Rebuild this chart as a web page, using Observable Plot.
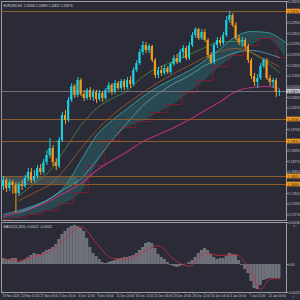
<!DOCTYPE html>
<html><head><meta charset="utf-8">
<script src="https://cdn.jsdelivr.net/npm/d3@7"></script>
<script src="https://cdn.jsdelivr.net/npm/@observablehq/plot@0.6"></script>
<style>
html,body{margin:0;padding:0;background:#2a2b36;width:300px;height:300px;overflow:hidden;}
#c svg{display:block;}
</style></head><body><div id="c"></div>
<script>
// ---- price data (EURUSD) ----
const openP = [1.1802,1.1820,1.1796,1.1814,1.1805,1.1781,1.1808,1.1802,1.1826,1.1844,
1.1820,1.1832,1.1856,1.1844,1.1874,1.1895,1.1916,1.1874,1.1862,1.1940,
1.2015,1.2000,1.2060,1.2102,1.2075,1.2120,1.2078,1.2066,1.2090,1.2069,
1.2084,1.2063,1.2081,1.2066,1.2090,1.2105,1.2084,1.2111,1.2096,1.2117,
1.2099,1.2120,1.2108,1.2150,1.2171,1.2204,1.2225,1.2210,1.2222,1.2180,
1.2135,1.2150,1.2141,1.2156,1.2144,1.2168,1.2186,1.2174,1.2204,1.2216,
1.2186,1.2225,1.2255,1.2273,1.2246,1.2264,1.2240,1.2195,1.2174,1.2225,
1.2240,1.2231,1.2255,1.2300,1.2315,1.2285,1.2246,1.2234,1.2240,1.2222,
1.2180,1.2132,1.2114,1.2126,1.2162,1.2180,1.2126,1.2114,1.2120,1.2084];
const closeP = [1.1820,1.1796,1.1814,1.1805,1.1781,1.1808,1.1802,1.1826,1.1844,1.1820,
1.1832,1.1856,1.1844,1.1874,1.1895,1.1916,1.1874,1.1862,1.1940,1.2015,
1.2000,1.2060,1.2102,1.2075,1.2120,1.2078,1.2066,1.2090,1.2069,1.2084,
1.2063,1.2081,1.2066,1.2090,1.2105,1.2084,1.2111,1.2096,1.2117,1.2099,
1.2120,1.2108,1.2150,1.2171,1.2204,1.2225,1.2210,1.2222,1.2180,1.2135,
1.2150,1.2141,1.2156,1.2144,1.2168,1.2186,1.2174,1.2204,1.2216,1.2186,
1.2225,1.2255,1.2273,1.2246,1.2264,1.2240,1.2195,1.2174,1.2225,1.2240,
1.2231,1.2255,1.2300,1.2315,1.2285,1.2246,1.2234,1.2240,1.2222,1.2180,
1.2132,1.2114,1.2126,1.2162,1.2180,1.2126,1.2114,1.2120,1.2084,1.2087];
const highP = [1.1832,1.1826,1.1823,1.1820,1.1814,1.1814,1.1820,1.1835,1.1856,1.1856,
1.1850,1.1865,1.1868,1.1883,1.1910,1.1946,1.1925,1.1886,1.1949,1.2024,
1.2030,1.2069,1.2111,1.2108,1.2129,1.2126,1.2090,1.2096,1.2099,1.2093,
1.2090,1.2090,1.2087,1.2096,1.2114,1.2111,1.2120,1.2117,1.2123,1.2123,
1.2129,1.2132,1.2159,1.2180,1.2213,1.2237,1.2234,1.2228,1.2225,1.2186,
1.2159,1.2162,1.2165,1.2162,1.2174,1.2195,1.2198,1.2213,1.2225,1.2222,
1.2234,1.2264,1.2279,1.2276,1.2273,1.2273,1.2246,1.2204,1.2231,1.2249,
1.2249,1.2264,1.2312,1.2327,1.2321,1.2294,1.2255,1.2249,1.2246,1.2228,
1.2186,1.2141,1.2138,1.2171,1.2186,1.2186,1.2135,1.2126,1.2126,1.2093];
const lowP = [1.1790,1.1784,1.1787,1.1778,1.1721,1.1772,1.1790,1.1796,1.1817,1.1811,
1.1814,1.1823,1.1835,1.1838,1.1865,1.1886,1.1862,1.1850,1.1856,1.1934,
1.1988,1.1994,1.2054,1.2066,1.2069,1.2072,1.2057,1.2060,1.2060,1.2057,
1.2051,1.2057,1.2054,1.2060,1.2081,1.2075,1.2078,1.2090,1.2090,1.2090,
1.2093,1.2096,1.2102,1.2144,1.2165,1.2195,1.2201,1.2201,1.2174,1.2126,
1.2126,1.2132,1.2135,1.2138,1.2138,1.2162,1.2168,1.2171,1.2186,1.2180,
1.2180,1.2219,1.2246,1.2240,1.2240,1.2234,1.2186,1.2168,1.2168,1.2216,
1.2222,1.2225,1.2249,1.2291,1.2279,1.2240,1.2225,1.2219,1.2210,1.2171,
1.2123,1.2102,1.2096,1.2120,1.2156,1.2120,1.2102,1.2096,1.2069,1.2072];

// ---- indicator lines (sampled at bar indices) ----
const maIdx = [5,10,15,20,25,30,35,40,45,50,55,60,65,70,75,80,85,89];
const maFast = [1.1775,1.1811,1.1850,1.1916,1.1985,1.2036,1.2066,1.2090,1.2132,1.2159,1.2177,1.2198,1.2219,1.2237,1.2237,1.2204,1.2174,1.2144];
const maMid = [1.1760,1.1784,1.1808,1.1856,1.1916,1.1970,1.2015,1.2051,1.2084,1.2114,1.2141,1.2165,1.2189,1.2207,1.2216,1.2204,1.2180,1.2162];
const maCyan = [1.1724,1.1742,1.1766,1.1796,1.1826,1.1880,1.1940,1.1994,1.2045,1.2081,1.2111,1.2135,1.2165,1.2186,1.2204,1.2210,1.2201,1.2189];
const longIdx = [0,5,10,15,20,25,30,35,40,45,50,55,60,65,70,75,80,85,89];
const maLong = [1.1712,1.1724,1.1739,1.1760,1.1784,1.1811,1.1850,1.1880,1.1907,1.1937,1.1958,1.1979,1.2003,1.2030,1.2057,1.2087,1.2099,1.2102,1.2096];
const cloudIdx = [0,5,10,15,20,25,30,35,40,45,50,55,60,65,70,75,80,85,91];
const spanA = [1.1718,1.1730,1.1745,1.1766,1.1805,1.1880,1.1955,1.2000,1.2036,1.2072,1.2102,1.2126,1.2150,1.2180,1.2216,1.2252,1.2267,1.2264,1.2234];
const spanB = [1.1703,1.1709,1.1718,1.1730,1.1751,1.1784,1.1865,1.1940,1.1979,1.1997,1.2024,1.2048,1.2084,1.2120,1.2162,1.2195,1.2225,1.2246,1.2189];

const levels = [1.2327, 1.2003, 1.1937, 1.1832, 1.1808];
const zoneLevels = [1.1808, 1.1832];
const zoneBars = [-0.65, 24];
const currentPrice = 1.2087;
const priceTicks = [1.2357,1.2293,1.2261,1.2229,1.2197,1.2165,1.2133,1.2101,1.2069,1.2037,1.1973,1.1909,1.1877,1.1845,1.1781,1.1749,1.1717];
const headerText = "EURUSD,H4  1.20840 1.20893 1.20812 1.20870";

// ---- MACD ----
const macdHist = [0.00048,0.00040,0.00040,0.00048,0.00048,0.00016,0.00024,0.00040,0.00056,0.00072,
0.00088,0.00080,0.00080,0.00096,0.00112,0.00120,0.00136,0.00160,0.00200,0.00240,
0.00264,0.00288,0.00304,0.00312,0.00304,0.00288,0.00264,0.00208,0.00136,0.00088,
0.00064,0.00040,0.00016,0.00008,0.00016,0.00024,0.00032,0.00040,0.00048,0.00056,
0.00056,0.00064,0.00072,0.00088,0.00112,0.00136,0.00168,0.00176,0.00168,0.00128,
0.00080,0.00056,0.00040,0.00016,-0.00008,-0.00016,-0.00024,-0.00016,-0.00008,0.00002,
0.00016,0.00032,0.00056,0.00088,0.00112,0.00128,0.00112,0.00080,0.00056,0.00040,
0.00048,0.00048,0.00064,0.00088,0.00080,0.00072,0.00032,-0.00008,-0.00040,-0.00072,
-0.00136,-0.00192,-0.00200,-0.00168,-0.00128,-0.00120,-0.00112,-0.00112,-0.00112,-0.00112];
const sigIdx = [0,5,10,15,20,25,30,35,40,45,50,55,60,65,70,75,80,83,86,89];
const macdSignal = [0.00046,0.00032,0.00066,0.00106,0.00210,0.00302,0.00170,0.00050,0.00044,0.00100,0.00150,0.00040,-0.00012,0.00090,0.00072,0.00078,-0.00070,-0.00196,-0.00118,-0.00112];
const macdTicks = [0.00336, 0, -0.00224];
const macdLabel = "MACD(12,26,9) -0.00112 -0.00112";
const dateIdx = [-0.3,5.8,11.9,18.1,24.2,30.3,36.5,42.6,48.7,54.8,61,67.1,73.2,79.4,85.5];
const dateLabels = ["19 Nov 2020","24 Nov 12:00","27 Nov 04:00","1 Dec 20:00","4 Dec 12:00","9 Dec 04:00","11 Dec 20:00","16 Dec 12:00","21 Dec 04:00","23 Dec 20:00","28 Dec 12:00","31 Dec 04:00","4 Jan 20:00","7 Jan 12:00","12 Jan 04:00"];

// ---- build ----
const BULL = "#19cfe0", BEAR = "#f29b1d", AX = "#9a9ba3", TXT = "#c9c9cc";
const FONT = "Liberation Sans, Arial, sans-serif";
const candles = closeP.map((c, i) => ({i, o: openP[i], h: highP[i], l: lowP[i], c}));
const col = d => d.c >= d.o ? BULL : BEAR;
const lineOf = (idx, vals) => idx.map((i, k) => ({i, v: vals[k]}));
const cloud = cloudIdx.map((i, k) => ({i, a: spanA[k], b: spanB[k]}));
const xDom = [-0.65, 91.3];
const baseStyle = {background: "transparent", color: TXT, fontFamily: FONT, overflow: "visible"};

const main = Plot.plot({
  width: 300, height: 221, marginTop: 1, marginBottom: 1, marginLeft: 1, marginRight: 14,
  style: baseStyle,
  x: {domain: xDom, axis: null},
  y: {domain: [1.1700, 1.2357], axis: null},
  color: {type: "identity"},
  marks: [
    Plot.rect([zoneLevels], {x1: zoneBars[0], x2: zoneBars[1], y1: d => d[0], y2: d => d[1], fill: "#7f9c8c", fillOpacity: 0.3}),
    Plot.areaY(cloud, {x: "i", y1: "a", y2: "b", fill: "#2b8c93", fillOpacity: 0.3, curve: "monotone-x"}),
    Plot.line(cloud, {x: "i", y: "a", stroke: "#3a9ea4", strokeWidth: 0.8, curve: "monotone-x"}),
    Plot.line(cloud, {x: "i", y: "b", stroke: "#7b1e2e", strokeWidth: 1, curve: "step"}),
    Plot.line(lineOf(longIdx, maLong), {x: "i", y: "v", stroke: "#b42f78", strokeWidth: 1.2, curve: "monotone-x"}),
    Plot.line(lineOf(maIdx, maCyan), {x: "i", y: "v", stroke: "#5fb9c2", strokeWidth: 0.8, strokeDasharray: "1,1", curve: "monotone-x"}),
    Plot.line(lineOf(maIdx, maMid), {x: "i", y: "v", stroke: "#b8632c", strokeWidth: 0.8, strokeDasharray: "1,1", curve: "monotone-x"}),
    Plot.line(lineOf(maIdx, maFast), {x: "i", y: "v", stroke: "#4f9e3c", strokeWidth: 0.8, strokeDasharray: "1,1", curve: "monotone-x"}),
    Plot.ruleY(levels, {stroke: "#8c5b2a", strokeWidth: 1}),
    Plot.ruleY([currentPrice], {stroke: "#80828a", strokeWidth: 0.8}),
    Plot.ruleX(candles, {x: "i", y1: "l", y2: "h", stroke: col, strokeWidth: 1}),
    Plot.rect(candles, {x1: d => d.i - 0.34, x2: d => d.i + 0.34, y1: "o", y2: "c", fill: col}),
    Plot.frame({stroke: AX}),
    Plot.axisY({anchor: "right", ticks: priceTicks, tickFormat: d => d.toFixed(5), tickSize: 1.5, tickPadding: 0.5, fontSize: 3.1, stroke: AX, fill: TXT}),
    Plot.rect(levels, {x1: xDom[1], x2: xDom[1] + 4.5, y1: d => d - 0.0007, y2: d => d + 0.0007, fill: "#f09a26"}),
    Plot.text(levels, {x: xDom[1] + 0.35, y: d => d, text: d => d.toFixed(5), textAnchor: "start", fill: "#2a1a08", fontSize: 3.1}),
    Plot.rect([currentPrice], {x1: xDom[1], x2: xDom[1] + 4.5, y1: d => d - 0.0007, y2: d => d + 0.0007, fill: "#c4c5c9"}),
    Plot.text([currentPrice], {x: xDom[1] + 0.35, y: d => d, text: d => d.toFixed(5), textAnchor: "start", fill: "#1e1e24", fontSize: 3.1}),
    Plot.text([headerText], {frameAnchor: "top-left", dx: 2, dy: 3.5, textAnchor: "start", fill: "#d8d8dc", fontSize: 3.2})
  ]
});

const macd = Plot.plot({
  width: 300, height: 79, marginTop: 1, marginBottom: 8, marginLeft: 1, marginRight: 14,
  style: baseStyle,
  x: {domain: xDom, axis: null},
  y: {domain: [-0.00224, 0.00336], axis: null},
  marks: [
    Plot.rect(macdHist.map((v, i) => ({i, v})), {x1: d => d.i - 0.5, x2: d => d.i + 0.5, y1: () => 0, y2: "v", fill: "#6f727a"}),
    Plot.line(lineOf(sigIdx, macdSignal), {x: "i", y: "v", stroke: "#d22a3c", strokeWidth: 0.9, strokeDasharray: "1.5,1", curve: "monotone-x"}),
    Plot.frame({stroke: AX}),
    Plot.axisY({anchor: "right", ticks: macdTicks, tickFormat: d => d === 0 ? "0.00" : d.toFixed(5), tickSize: 1.5, tickPadding: 0.5, fontSize: 3.1, stroke: AX, fill: TXT}),
    Plot.axisX({anchor: "bottom", ticks: dateIdx, tickFormat: d => dateLabels[dateIdx.indexOf(d)], textAnchor: "start", tickSize: 1.5, tickPadding: 1, fontSize: 3, stroke: AX, fill: TXT}),
    Plot.text([macdLabel], {frameAnchor: "top-left", dx: 2, dy: 3.5, textAnchor: "start", fill: "#d8d8dc", fontSize: 3.2})
  ]
});

const c = document.getElementById("c");
c.appendChild(main);
c.appendChild(macd);
</script>
</body></html>
